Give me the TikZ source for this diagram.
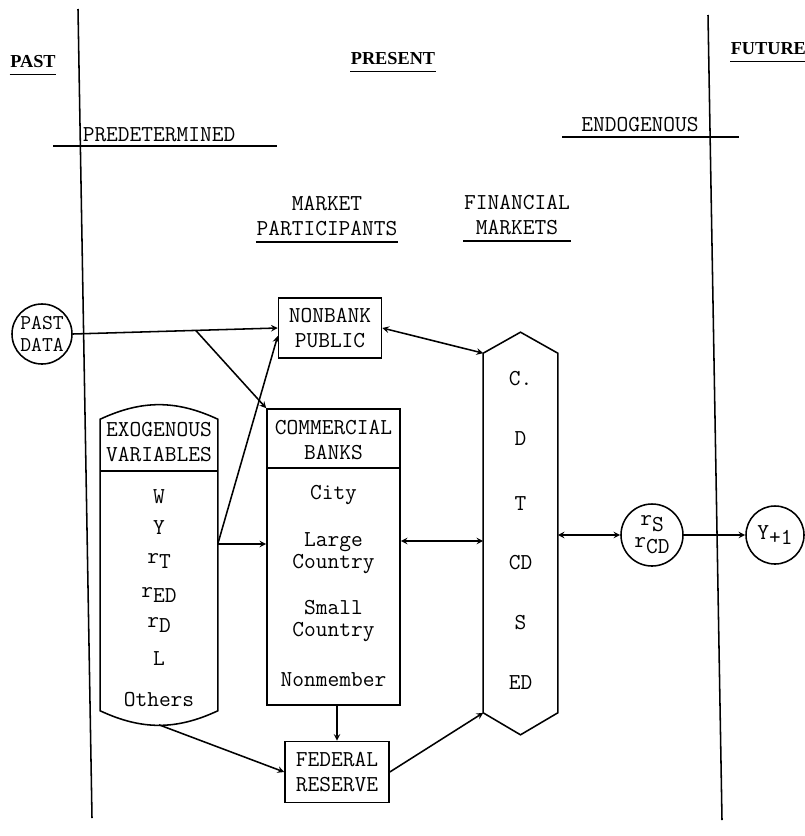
\documentclass[tikz,border=0pt]{standalone}
\usepackage{fontspec}
\setmainfont{Liberation Serif}
\usetikzlibrary{arrows,shapes,positioning,calc}

\tikzstyle{arrow} = [->,>=stealth]
\tikzstyle{darrow} = [<->,>=stealth]

% typewriter half-line drop for subscripts
\newcommand{\lowtxt}[1]{\raisebox{-0.6ex}{#1}}

\begin{document}
\begin{tikzpicture}[x=0.025cm, y=-0.025cm, line width=1.1pt,
  tw/.style={font=\ttfamily\fontsize{16.2}{18.2}\selectfont, align=center, inner sep=0pt},
  item/.style={font=\ttfamily\fontsize{16.2}{15.6}\selectfont, align=center, inner sep=0pt},
  era/.style={font=\bfseries\fontsize{13}{16}\selectfont, inner sep=0pt},
  box/.style={tw, draw}]
\useasboundingbox (0,0) rectangle (804,836);

% Time lines
\draw (78,9) -- (92,818);
\draw (708,15) -- (722,820);
\node[era] (past) at (33,62) {PAST};
\node[era] (present) at (393,59) {PRESENT};
\node[era, anchor=west] (future) at (730,49) {FUTURE};
\draw ([yshift=-4pt]past.south west) -- ([yshift=-4pt]past.south east);
\draw ([yshift=-4pt]present.south west) -- ([yshift=-4pt]present.south east);
\draw ([yshift=-4pt]future.south west) -- ([yshift=-4pt]future.south east);

\node[tw, anchor=west] (predet) at (82,135) {PREDETERMINED};
\draw (53,146) -- (277,146);
\node[tw] (endog) at (640,125) {ENDOGENOUS};
\draw (562,137) -- (739,137);

% Column heads
\node[tw] (mpart) at (327,216) {MARKET\\PARTICIPANTS};
\draw ([yshift=-3.5pt]mpart.south west) -- ([yshift=-3.5pt]mpart.south east);
\node[tw] (fmkt) at (517,215) {FINANCIAL\\MARKETS};
\draw ([yshift=-3.5pt]fmkt.south west) -- ([yshift=-3.5pt]fmkt.south east);

% Past data
\node[draw, circle, font=\ttfamily\fontsize{15}{15.5}\selectfont, align=center, inner sep=0pt, minimum size=1.5cm] (pastdata) at (42,334) {PAST\\DATA};

% Exogenous variables
\node[minimum width=2.9cm, minimum height=7.25cm, inner sep=0pt] (exog) at (159,565) {};
\draw (exog.north west) to[bend left=25] (exog.north east) -- (exog.south east)
  to[bend left=25] (exog.south west) -- cycle;
\draw ($(exog.north west)+(0,52)$) -- ($(exog.north east)+(0,52)$);
\node[tw] (exohead) at (159,442) {EXOGENOUS\\VARIABLES};
\foreach \txt/\yy [count=\i] in {W/497, Y/528, r\lowtxt{T}/561, r\lowtxt{ED}/595, r\lowtxt{D}/625, L/659, Others/700}
  \node[item] (exo\i) at (159,\yy) {\txt};
\coordinate (exo-out) at ($(exog.east)+(0,-21)$);
\coordinate (exo-bot) at ($(exog.south)+(0,14)$);

% Market participants
\node[box, minimum width=2.575cm, minimum height=1.5cm] (nonbank) at (330,328) {NONBANK\\PUBLIC};
\node[draw, minimum width=3.325cm, minimum height=7.4cm, inner sep=0pt] (banks) at (333.5,557) {};
\draw ($(banks.north west)+(0,60)$) -- ($(banks.north east)+(0,60)$);
\node[tw] (bankhead) at (333.5,440) {COMMERCIAL\\BANKS};
\node[item] (city) at (333.5,495) {City};
\node[item] (large) at (333.5,553) {Large\\Country};
\node[item] (small) at (333.5,621) {Small\\Country};
\node[item] (nonmem) at (333.5,680) {Nonmember};
\node[box, minimum width=2.6cm, minimum height=1.525cm] (fedres) at (337,772) {FEDERAL\\RESERVE};
\coordinate (bank-out) at ($(banks.east)+(0,-16)$);

% Financial markets
\node[minimum width=1.825cm, minimum height=8.95cm, inner sep=0pt] (fm) at (520.5,533) {};
\draw (fm.north west) -- ($(fm.north)+(0,-21)$) -- (fm.north east) -- (fm.south east)
  -- ($(fm.south)+(0,22)$) -- (fm.south west) -- cycle;
\foreach \txt/\yy [count=\i] in {C./379, D/439, T/504, CD/563, S/623, ED/683}
  \node[item] (fm\i) at (520.5,\yy) {\txt};

% Endogenous results
\node[draw, circle, item, minimum size=1.55cm] (rates) at (652,535) {r\lowtxt{S}\\r\lowtxt{CD}};
\node[draw, circle, item, minimum size=1.45cm] (ynext) at (775,535) {Y\lowtxt{+1}};

% Flows
\draw[arrow] (pastdata.east) -- (nonbank.west);
\coordinate (fork) at ($(pastdata.east)!0.6!(nonbank.west)$);
\draw[arrow] (fork) -- (banks.north west);
\draw[arrow] (exo-out) -- ([yshift=-0.2cm]nonbank.west);
\draw[arrow] (exo-out) -- (exo-out -| banks.west);
\draw[arrow] (exo-bot) -- (fedres.west);
\draw[arrow] (fedres.north |- banks.south) -- (fedres.north);
\draw[arrow] (fedres.east) -- (fm.south west);
\draw[darrow] (nonbank.east) -- (fm.north west);
\draw[darrow] (bank-out) -- (bank-out -| fm.west);
\draw[darrow] (fm.east |- rates.west) -- (rates.west);
\draw[arrow] (rates.east) -- (ynext.west);
\end{tikzpicture}
\end{document}
